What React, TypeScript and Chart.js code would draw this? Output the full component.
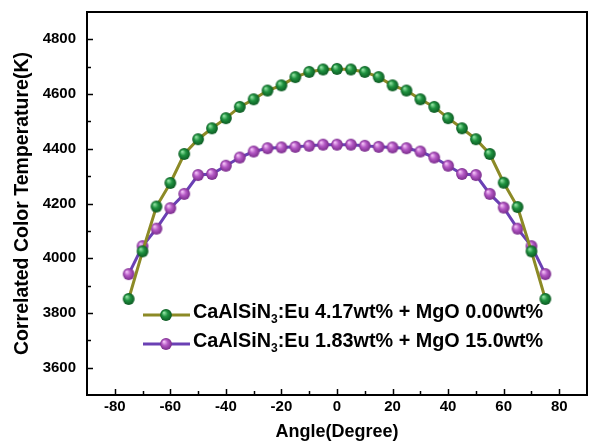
import React, { useEffect, useRef } from 'react';
import { Chart, registerables } from 'chart.js';
Chart.register(...registerables);

const angles = [-75, -70, -65, -60, -55, -50, -45, -40, -35, -30, -25, -20, -15, -10, -5, 0, 5, 10, 15, 20, 25, 30, 35, 40, 45, 50, 55, 60, 65, 70, 75];
const cctUndoped = [3851, 4025, 4189, 4275, 4381, 4435, 4475, 4512, 4553, 4581, 4613, 4632, 4662, 4681, 4690, 4692, 4690, 4681, 4662, 4632, 4613, 4581, 4553, 4512, 4475, 4435, 4381, 4276, 4187, 4025, 3851];
const cctMgO = [3942, 4044, 4108, 4183, 4235, 4304, 4308, 4338, 4368, 4390, 4402, 4405, 4407, 4411, 4415, 4415, 4415, 4411, 4407, 4405, 4402, 4390, 4368, 4338, 4308, 4304, 4235, 4185, 4108, 4044, 3942];
const xTickLabels = [-80, -60, -40, -20, 0, 20, 40, 60, 80];
const yTickLabels = [3600, 3800, 4000, 4200, 4400, 4600, 4800];
const legendLabels = [
  ['CaAlSiN', '3', ':Eu 4.17wt% + MgO 0.00wt%'],
  ['CaAlSiN', '3', ':Eu 1.83wt% + MgO 15.0wt%'],
];

const FONT = '"Liberation Sans", Arial, Helvetica, sans-serif';

function makeBall(hi: string, mid: string, edge: string, r: number) {
  const c = document.createElement('canvas');
  const s = Math.ceil(r * 2 + 2);
  c.width = s;
  c.height = s;
  const g = c.getContext('2d')!;
  const cx = s / 2, cy = s / 2;
  const grad = g.createRadialGradient(cx - r * 0.35, cy - r * 0.4, 0.5, cx, cy, r);
  grad.addColorStop(0, hi);
  grad.addColorStop(0.45, mid);
  grad.addColorStop(1, edge);
  g.fillStyle = grad;
  g.beginPath();
  g.arc(cx, cy, r, 0, Math.PI * 2);
  g.fill();
  return c;
}

export default function App() {
  const ref = useRef<HTMLCanvasElement>(null);
  useEffect(() => {
    document.body.style.margin = '0';
    const greenBall = makeBall('#8fe0a0', '#1f9240', '#0c5a22', 5.9);
    const purpleBall = makeBall('#f2c0f6', '#b458c4', '#7a2c8c', 5.9);
    const lineColors = ['#8c8a26', '#6a40b4'];
    const balls = [greenBall, purpleBall];

    const framePlugin = {
      id: 'frameTicks',
      afterDraw(chart: any) {
        const { ctx, chartArea: a, scales } = chart;
        const xs = scales.x, ys = scales.y;
        ctx.save();
        ctx.strokeStyle = '#000';
        ctx.lineWidth = 2;
        ctx.strokeRect(a.left, a.top, a.right - a.left, a.bottom - a.top);
        ctx.lineWidth = 1.5;
        for (let v = -80; v <= 80; v += 10) {
          const px = Math.round(xs.getPixelForValue(v)) + 0.5;
          const len = v % 20 === 0 ? 6 : 4;
          ctx.beginPath();
          ctx.moveTo(px, a.bottom);
          ctx.lineTo(px, a.bottom - len);
          ctx.stroke();
        }
        for (let v = 3600; v <= 4800; v += 100) {
          const py = Math.round(ys.getPixelForValue(v)) + 0.5;
          const len = v % 200 === 0 ? 6 : 4;
          ctx.beginPath();
          ctx.moveTo(a.left, py);
          ctx.lineTo(a.left + len, py);
          ctx.stroke();
        }
        ctx.restore();
      },
    };

    const legendPlugin = {
      id: 'insideLegend',
      afterDatasetsDraw(chart: any) {
        const { ctx } = chart;
        ctx.save();
        const rows = [315, 344];
        const bases = [318, 347];
        legendLabels.forEach((parts, i) => {
          const y = rows[i];
          ctx.strokeStyle = lineColors[i];
          ctx.lineWidth = 3;
          ctx.beginPath();
          ctx.moveTo(143, y);
          ctx.lineTo(190, y);
          ctx.stroke();
          const b = balls[i];
          ctx.drawImage(b, 166 - b.width / 2, y - b.height / 2);
          ctx.fillStyle = '#000';
          ctx.textBaseline = 'alphabetic';
          let x = 193;
          const base = bases[i];
          ctx.font = `bold 19.8px ${FONT}`;
          ctx.fillText(parts[0], x, base);
          x += ctx.measureText(parts[0]).width;
          ctx.font = `bold 12px ${FONT}`;
          ctx.fillText(parts[1], x, base + 5);
          x += ctx.measureText(parts[1]).width;
          ctx.font = `bold 19.8px ${FONT}`;
          ctx.fillText(parts[2], x, base);
        });
        ctx.restore();
      },
    };

    const chart = new Chart(ref.current!, {
      type: 'line',
      data: {
        datasets: [
          {
            label: 'CaAlSiN3:Eu 4.17wt% + MgO 0.00wt%',
            data: angles.map((a, i) => ({ x: a, y: cctUndoped[i] })),
            borderColor: lineColors[0],
            borderWidth: 3,
            pointStyle: greenBall as any,
            tension: 0,
          },
          {
            label: 'CaAlSiN3:Eu 1.83wt% + MgO 15.0wt%',
            data: angles.map((a, i) => ({ x: a, y: cctMgO[i] })),
            borderColor: lineColors[1],
            borderWidth: 3,
            pointStyle: purpleBall as any,
            tension: 0,
          },
        ],
      },
      options: {
        animation: false,
        responsive: false,
        maintainAspectRatio: false,
        layout: { padding: { left: 0, top: 12, right: 2, bottom: 0 } },
        plugins: { legend: { display: false }, tooltip: { enabled: false } },
        scales: {
          x: {
            type: 'linear',
            min: -90,
            max: 90,
            afterBuildTicks: (s: any) => { s.ticks = xTickLabels.map((v) => ({ value: v })); },
            afterFit: (s: any) => { s.height = 48; s.paddingLeft = 0; s.paddingRight = 0; },
            grid: { display: false, drawTicks: false },
            border: { display: false },
            ticks: { color: '#000', font: { family: FONT, size: 15, weight: 'bold' }, padding: 3, maxRotation: 0, callback: (v: any) => String(v) },
            title: { display: true, text: 'Angle(Degree)', color: '#000', font: { family: FONT, size: 18, weight: 'bold' }, padding: { top: 0, bottom: 0 } },
          },
          y: {
            type: 'linear',
            min: 3500,
            max: 4900,
            afterBuildTicks: (s: any) => { s.ticks = yTickLabels.map((v) => ({ value: v })); },
            afterFit: (s: any) => { s.width = 87; s.paddingTop = 0; s.paddingBottom = 0; },
            grid: { display: false, drawTicks: false },
            border: { display: false },
            ticks: { color: '#000', font: { family: FONT, size: 15, weight: 'bold' }, padding: 11, callback: (v: any) => String(v) },
            title: { display: true, text: 'Correlated Color Temperature(K)', color: '#000', font: { family: FONT, size: 19.5, weight: 'bold' }, padding: { top: 11, bottom: 0 } },
          },
        },
      },
      plugins: [framePlugin, legendPlugin],
    });
    return () => chart.destroy();
  }, []);
  return (
    <div style={{ position: 'absolute', left: 0, top: 0, width: 594, height: 443, background: '#fff' }}>
      <canvas ref={ref} width={594} height={443} style={{ width: 594, height: 443, display: 'block' }} />
    </div>
  );
}
